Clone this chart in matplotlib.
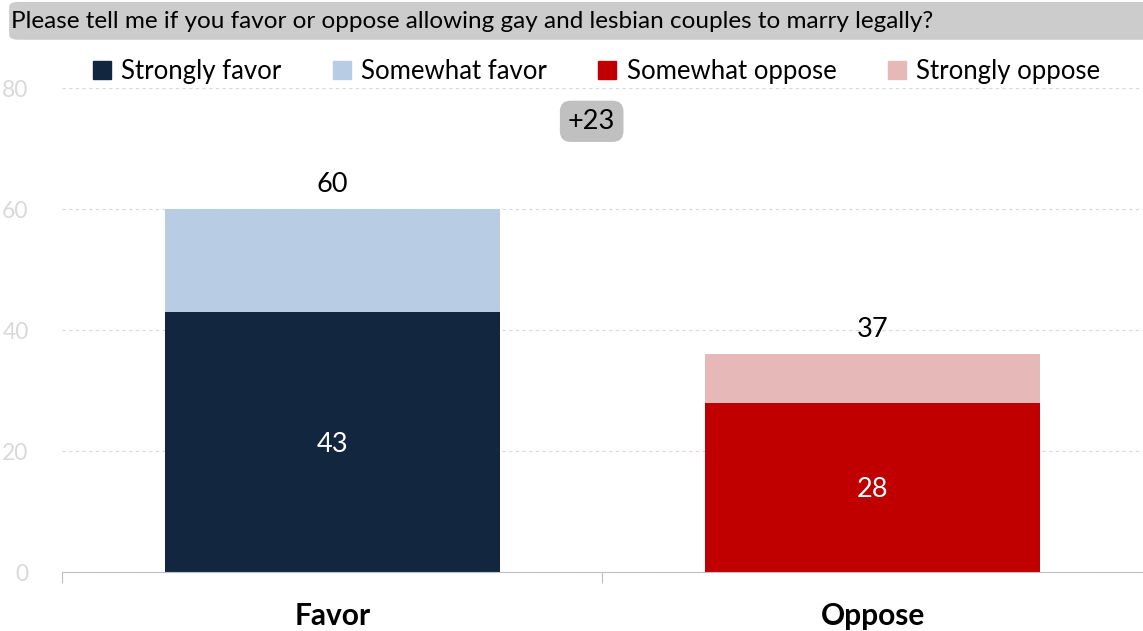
import matplotlib.pyplot as plt
from matplotlib.patches import FancyBboxPatch, Patch

plt.rcParams['font.family'] = ['Lato', 'DejaVu Sans']

categories = ['Favor', 'Oppose']
strong = [43, 28]
somewhat = [17, 8]
totals = [60, 37]
net_label = '+23'
title = 'Please tell me if you favor or oppose allowing gay and lesbian couples to marry legally?'
legend_labels = ['Strongly favor', 'Somewhat favor', 'Somewhat oppose', 'Strongly oppose']

dark_colors = ['#13263f', '#c00000']
light_colors = ['#b8cce4', '#e6b8b7']

fig = plt.figure(figsize=(11.43, 6.31), dpi=100)
ax = fig.add_axes([0.0542, 0.0935, 0.9458, 0.767])

x = range(len(categories))
width = 0.62
ax.bar(x, strong, width, color=dark_colors, zorder=2)
ax.bar(x, somewhat, width, bottom=strong, color=light_colors, zorder=2)

for i in x:
    ax.text(i, strong[i] / 2 - 0.4, str(strong[i]), ha='center', va='center', color='white', fontsize=19.5)
    ax.text(i, strong[i] + somewhat[i] + 2.0, str(totals[i]), ha='center', va='bottom', color='black', fontsize=19.5)

ax.text(0.48, 74.5, net_label, ha='center', va='center', fontsize=19.5,
        bbox=dict(boxstyle='round,pad=0.3,rounding_size=0.4', fc='#c0c0c0', ec='none'))

ax.set_xlim(-0.5, 1.5)
ax.set_ylim(0, 80)
ax.set_yticks([0, 20, 40, 60, 80])
ax.yaxis.grid(True, linestyle=(0, (3, 3)), color='#d9d9d9', linewidth=0.8, zorder=0)
ax.tick_params(axis='y', length=0, labelsize=16.5, labelcolor='#d9d9d9', pad=24)
for s in ['top', 'right', 'left']:
    ax.spines[s].set_visible(False)
ax.spines['bottom'].set_color('#bfbfbf')

ax.set_xticks([-0.5, 0.5])
ax.set_xticklabels([])
ax.tick_params(axis='x', length=8, color='#bfbfbf', direction='out')
for i, c in enumerate(categories):
    ax.text(i, -7.2, c, ha='center', va='center', fontsize=21.5, fontweight='bold')

# title bar
fig.patches.append(FancyBboxPatch((0.008, 0.937), 1.0, 0.06, boxstyle='round,pad=0,rounding_size=0.008',
                                  transform=fig.transFigure, fc='#cccccc', ec='none'))
fig.text(0.010, 0.966, title, ha='left', va='center', fontsize=17.5)

handles = [Patch(color=c) for c in [dark_colors[0], light_colors[0], dark_colors[1], light_colors[1]]]
fig.legend(handles, legend_labels, loc='center', bbox_to_anchor=(0.522, 0.887), ncol=4, frameon=False,
           fontsize=18.5, handlelength=0.7, handleheight=0.7, handletextpad=0.4, columnspacing=2.0)

fig.savefig('out.png', dpi=100)
